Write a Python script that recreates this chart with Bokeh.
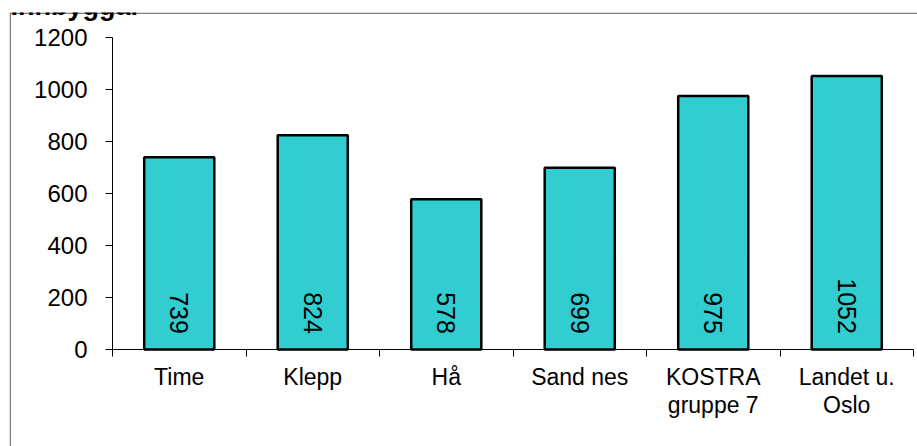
import math
from bokeh.plotting import figure
from bokeh.models import Range1d, FixedTicker, Label, ColumnDataSource, Span
from bokeh.embed import file_html
from bokeh.resources import INLINE
from bokeh.core.properties import value

# ---- data ----
categories = ["Time", "Klepp", "Hå", "Sand nes", "KOSTRA\ngruppe 7", "Landet u.\nOslo"]
values = [739, 824, 578, 699, 975, 1052]
y_ticks = [0, 200, 400, 600, 800, 1000, 1200]
title_text = "Innbyggar"

FONT = "Liberation Sans"
n = len(categories)
xs = [i + 0.5 for i in range(n)]
label_y = 60
y_max = 1200

# ---- layout (pixels) ----
W, H = 917, 446
box_left, box_top = 9, 12          # outer gray chart box (left/top edges)
ax_left, ax_right = 112, 913       # plot area in pixels
ax_top, ax_bottom = 37, 349
px_x = (ax_right - ax_left) / n
px_y = (ax_bottom - ax_top) / y_max
x0 = -(ax_left - box_left) / px_x
x1 = n + (W - ax_right) / px_x
y0 = -(H - ax_bottom) / px_y
y1 = (ax_bottom - box_top) / px_y

src = ColumnDataSource(dict(x=xs, top=values, lab=[str(v) for v in values],
                            ly=[label_y] * n))

p = figure(width=W, height=H, output_backend="svg", toolbar_location=None,
           x_range=Range1d(x0, x1), y_range=Range1d(y0, y1),
           min_border_left=box_left, min_border_right=0,
           min_border_top=box_top, min_border_bottom=0)
p.outline_line_color = None
p.xgrid.visible = False
p.ygrid.visible = False
p.background_fill_color = "white"
p.border_fill_color = "white"

# left and top edges of the gray chart box
p.add_layout(Span(location=x0 + 0.75 / px_x, dimension="height",
                  line_color="#7f7f7f", line_width=1.5))
p.add_layout(Span(location=y1 - 0.75 / px_y, dimension="width",
                  line_color="#7f7f7f", line_width=1.5))

p.vbar(x="x", top="top", width=0.525, source=src, fill_color="#31CDD1",
       line_color="black", line_width=2.5)
p.text(x="x", y="ly", text="lab", source=src, angle=-math.pi / 2,
       text_align="right", text_baseline="middle", text_font=value(FONT),
       text_font_size="25px", text_color="black")

# x axis: labels at category centres, ticks at category boundaries
xa = p.xaxis[0]
xa.fixed_location = 0
xa.bounds = (0, n)
xa.ticker = FixedTicker(ticks=xs, minor_ticks=list(range(n + 1)))
xa.major_label_overrides = {x: c for x, c in zip(xs, categories)}
xa.major_tick_out = 0
xa.major_tick_in = 0
xa.minor_tick_out = 7
xa.minor_tick_in = 0
xa.minor_tick_line_color = "black"
xa.axis_line_color = "black"
xa.major_label_text_font = FONT
xa.major_label_text_font_size = "23px"
xa.major_label_text_color = "black"
xa.major_label_text_line_height = 1.1
xa.major_label_standoff = 7

ya = p.yaxis[0]
ya.fixed_location = 0
ya.bounds = (0, y_max)
ya.ticker = FixedTicker(ticks=y_ticks, minor_ticks=[])
ya.major_tick_out = 7
ya.major_tick_in = 0
ya.major_tick_line_color = "black"
ya.axis_line_color = "black"
ya.major_label_text_font = FONT
ya.major_label_text_font_size = "24px"
ya.major_label_text_color = "black"
ya.major_label_standoff = 18

p.add_layout(Label(x=10, y=5, x_units="canvas", y_units="canvas",
                   text=title_text, text_font=FONT,
                   text_font_size="27px", text_font_style="bold",
                   text_color="black", text_baseline="alphabetic",
                   text_align="left"))

open("out.html", "w").write(file_html(p, INLINE))
